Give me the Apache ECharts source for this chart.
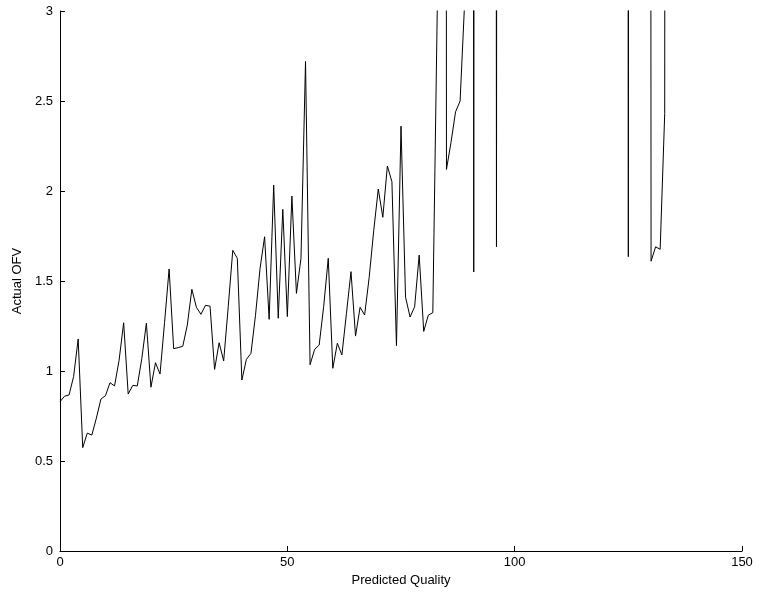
<!DOCTYPE html>
<html>
    <head>
        <meta charset="utf-8">
        <title>Actual OFV vs Predicted Quality</title>
        <script src="https://cdn.jsdelivr.net/npm/echarts@6/dist/echarts.min.js"></script>
        <style>
            html, body { margin: 0; padding: 0; background: #fff; }
            #chart1 { width: 761px; height: 599px; }
        </style>
    </head>
    <body>
        <div id="chart1"></div>
        <script type="text/javascript">
            // actual OFV, one value per predicted quality step (0, 1, 2, ...)
            // values above 3 run off the top of the plot
            var ofv = [
                0.83, 0.86, 0.867, 0.97, 1.178, 0.574, 0.655, 0.644, 0.738, 0.844,
                0.863, 0.935, 0.917, 1.06, 1.268, 0.872, 0.92, 0.917, 1.07, 1.266,
                0.91, 1.046, 0.983, 1.27, 1.567, 1.124, 1.13, 1.137, 1.255, 1.454,
                1.354, 1.315, 1.365, 1.36, 1.009, 1.157, 1.056, 1.357, 1.67, 1.626,
                0.95, 1.065, 1.098, 1.31, 1.57, 1.746, 1.287, 2.033, 1.293, 1.898,
                1.302, 1.972, 1.431, 1.626, 2.72, 1.035, 1.12, 1.144, 1.36, 1.626,
                1.015, 1.154, 1.089, 1.32, 1.552, 1.194, 1.354, 1.311, 1.52, 1.78,
                2.011, 1.854, 2.139, 2.052, 1.141, 2.36, 1.41, 1.30, 1.357, 1.644,
                1.22, 1.31, 1.324, 3.05, 40, 2.12, 2.27, 2.44, 2.5, 3.05,
                40, 1.55, 40, 40, 40, 40, 1.69, 40, 40, 40,
                40, 40, 40, 40, 40, 40, 40, 40, 40, 40,
                40, 40, 40, 40, 40, 40, 40, 40, 40, 40,
                40, 40, 40, 40, 40, 1.635, 40, 40, 40, 40,
                1.61, 1.69, 1.676, 2.43, 40
            ];
            var xTicks = [0, 50, 100, 150];
            var yTicks = [0, 0.5, 1, 1.5, 2, 2.5, 3];

            var points = ofv.map(function (v, i) { return [i, v]; });

            var myChart1 = echarts.init(document.getElementById('chart1'));
            myChart1.setOption({
                animation: false,
                backgroundColor: '#fff',
                textStyle: { fontFamily: 'Liberation Sans, Arial, sans-serif' },
                grid: { left: 60, right: 19, top: 11, bottom: 48 },
                xAxis: {
                    type: 'value',
                    min: xTicks[0],
                    max: xTicks[xTicks.length - 1],
                    interval: 50,
                    name: 'Predicted Quality',
                    nameLocation: 'middle',
                    nameGap: 22,
                    nameTextStyle: { color: '#000', fontSize: 13 },
                    axisLine: { lineStyle: { color: '#000', width: 1 } },
                    axisTick: { inside: true, length: 5, lineStyle: { color: '#000' } },
                    axisLabel: { color: '#000', fontSize: 13, margin: 5 },
                    splitLine: { show: false }
                },
                yAxis: {
                    type: 'value',
                    min: yTicks[0],
                    max: yTicks[yTicks.length - 1],
                    interval: 0.5,
                    name: 'Actual OFV',
                    nameLocation: 'middle',
                    nameGap: 36,
                    nameTextStyle: { color: '#000', fontSize: 13 },
                    axisLine: { show: true, lineStyle: { color: '#000', width: 1 } },
                    axisTick: { show: true, inside: true, length: 5, lineStyle: { color: '#000' } },
                    axisLabel: { color: '#000', fontSize: 13, margin: 7 },
                    splitLine: { show: false }
                },
                series: [
                    {
                        name: 'Actual OFV',
                        type: 'line',
                        data: points,
                        showSymbol: false,
                        symbol: 'none',
                        clip: true,
                        lineStyle: { color: '#000', width: 1 }
                    }
                ]
            });
        </script>
    </body>
</html>
